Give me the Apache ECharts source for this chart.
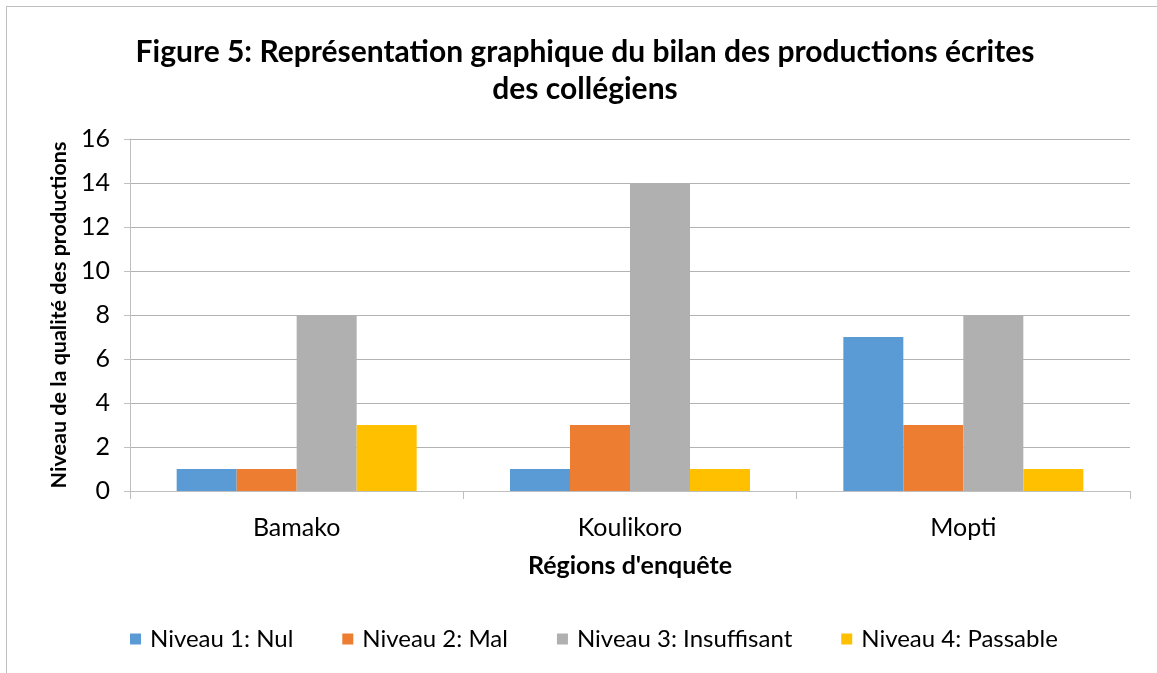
<!DOCTYPE html>
<html>
<head>
<meta charset="utf-8">
<script src="https://cdn.jsdelivr.net/npm/echarts@6/dist/echarts.min.js"></script>
<style>
  html, body { margin: 0; padding: 0; background: #fff; }
  #frame { position: absolute; left: 6px; top: 6px; width: 1200px; height: 700px;
           border-left: 1px solid #bfbfbf; border-top: 1px solid #bfbfbf; }
  #chart { position: absolute; left: 0; top: 0; width: 1157px; height: 673px; }
</style>
</head>
<body>
<div id="frame"></div>
<div id="chart"></div>
<script>
const regions = ["Bamako", "Koulikoro", "Mopti"];
const niveau1 = [1, 1, 7];
const niveau2 = [1, 3, 3];
const niveau3 = [8, 14, 8];
const niveau4 = [3, 1, 1];
const seriesNames = ["Niveau 1: Nul", "Niveau 2: Mal", "Niveau 3: Insuffisant", "Niveau 4: Passable"];

const chart = echarts.init(document.getElementById("chart"));
const font = "Lato, 'Open Sans', sans-serif";

const option = {
  color: ["#5B9BD5", "#ED7D31", "#B0B0B0", "#FFC000"],
  textStyle: { fontFamily: font },
  title: {
    text: "Figure 5: Représentation graphique du bilan des productions écrites\ndes collégiens",
    left: 580,
    textAlign: "center",
    top: 29,
    textStyle: { fontSize: 30, fontWeight: "bold", color: "#000", lineHeight: 37, fontFamily: font }
  },
  legend: {
    top: 622,
    left: 125,
    itemWidth: 11,
    itemHeight: 11,
    itemGap: 49,
    icon: "rect",
    textStyle: { fontSize: 24, color: "#000", fontFamily: font, padding: [0, 0, 0, 4] },
    data: seriesNames
  },
  grid: { left: 130, right: 27, top: 139, bottom: 182 },
  xAxis: {
    type: "category",
    data: regions,
    name: "Régions d'enquête",
    nameLocation: "middle",
    nameGap: 62,
    nameTextStyle: { fontSize: 25, fontWeight: "bold", color: "#000", fontFamily: font },
    axisLine: { lineStyle: { color: "#bfbfbf", width: 1 } },
    axisTick: { show: true, length: 8, lineStyle: { color: "#bfbfbf" } },
    axisLabel: { fontSize: 25, color: "#000", margin: 24, fontFamily: font }
  },
  yAxis: {
    type: "value",
    min: 0,
    max: 16,
    interval: 2,
    name: "Niveau de la qualité des productions",
    nameLocation: "middle",
    nameGap: 59,
    nameTextStyle: { fontSize: 21.5, fontWeight: "bold", color: "#000", fontFamily: font },
    axisLine: { show: true, lineStyle: { color: "#bfbfbf", width: 1 } },
    axisTick: { show: true, length: 6, lineStyle: { color: "#bfbfbf" } },
    axisLabel: { fontSize: 25, color: "#000", margin: 20, fontFamily: font },
    splitLine: { lineStyle: { color: "#b3b3b3", width: 1 } }
  },
  series: [
    { name: seriesNames[0], type: "bar", data: niveau1, barGap: "0%", barCategoryGap: "28%" },
    { name: seriesNames[1], type: "bar", data: niveau2, barGap: "0%", barCategoryGap: "28%" },
    { name: seriesNames[2], type: "bar", data: niveau3, barGap: "0%", barCategoryGap: "28%" },
    { name: seriesNames[3], type: "bar", data: niveau4, barGap: "0%", barCategoryGap: "28%" }
  ]
};
chart.setOption(option);
</script>
</body>
</html>
